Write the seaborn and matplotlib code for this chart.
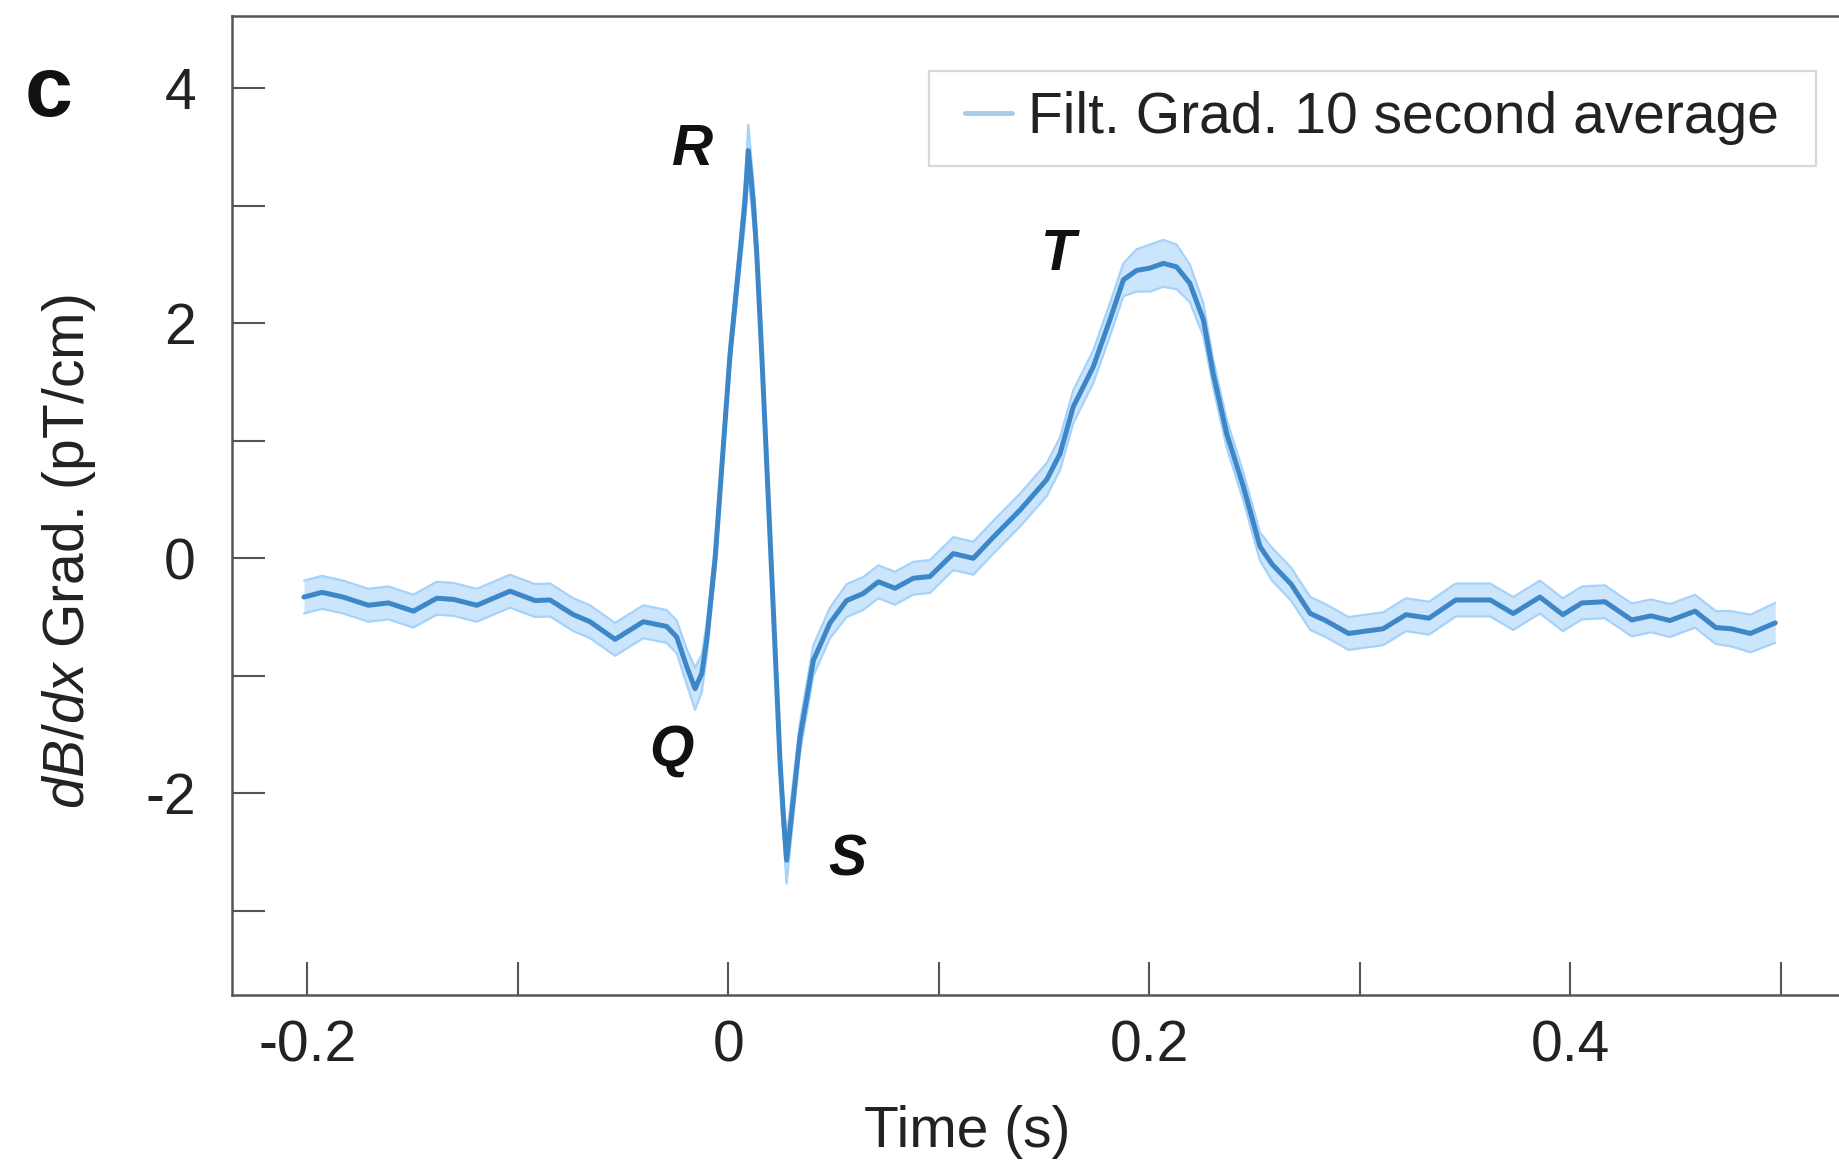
import numpy as np
import pandas as pd
import matplotlib
matplotlib.use("Agg")
import matplotlib.pyplot as plt
import seaborn as sns
from matplotlib.lines import Line2D
from matplotlib.legend_handler import HandlerLine2D

# ---------------- data ----------------
time_s = [-0.2016, -0.193, -0.183, -0.171, -0.1615, -0.1496, -0.1385, -0.1306, -0.1195,
          -0.1037, -0.0918, -0.0847, -0.0736, -0.0657, -0.0538, -0.0404, -0.0293, -0.0245,
          -0.0198, -0.0158, -0.0126, -0.0103, -0.0063, 0.0008, 0.0056, 0.0079, 0.0095,
          0.0119, 0.0135, 0.0159, 0.0214, 0.0246, 0.0261, 0.0277, 0.0301, 0.034, 0.0404,
          0.0483, 0.0562, 0.0641, 0.0713, 0.0792, 0.0879, 0.0958, 0.1069, 0.1164, 0.1259,
          0.1386, 0.1513, 0.1576, 0.1639, 0.1734, 0.1813, 0.1877, 0.194, 0.2003, 0.2067,
          0.213, 0.2193, 0.2257, 0.2304, 0.2368, 0.2447, 0.2526, 0.2583, 0.2674, 0.2765,
          0.2838, 0.2947, 0.3111, 0.322, 0.3329, 0.3456, 0.362, 0.3729, 0.3856, 0.3965,
          0.4056, 0.4165, 0.4292, 0.4384, 0.4474, 0.4593, 0.4692, 0.4765, 0.4856, 0.4974]

grad_mean = [-0.33, -0.29, -0.33, -0.40, -0.38, -0.45, -0.34, -0.35, -0.40,
             -0.28, -0.36, -0.355, -0.48, -0.54, -0.69, -0.54, -0.58, -0.67,
             -0.92, -1.11, -0.98, -0.70, -0.01, 1.73, 2.60, 3.03, 3.47,
             3.03, 2.60, 1.73, -0.44, -1.74, -2.18, -2.57, -2.18, -1.53, -0.87,
             -0.55, -0.36, -0.30, -0.20, -0.255, -0.17, -0.155, 0.04, 0.0, 0.18,
             0.41, 0.67, 0.89, 1.29, 1.63, 2.03, 2.37, 2.45, 2.47, 2.51,
             2.48, 2.34, 2.03, 1.57, 1.06, 0.61, 0.10, -0.05, -0.22, -0.47,
             -0.53, -0.64, -0.60, -0.48, -0.51, -0.355, -0.355, -0.47, -0.33, -0.48,
             -0.38, -0.37, -0.525, -0.49, -0.53, -0.45, -0.59, -0.60, -0.64, -0.55]

grad_err = [0.14, 0.14, 0.14, 0.14, 0.14, 0.14, 0.14, 0.14, 0.14,
            0.14, 0.14, 0.14, 0.14, 0.14, 0.14, 0.14, 0.14, 0.14,
            0.15, 0.18, 0.16, 0.14, 0.12, 0.10, 0.14, 0.18, 0.22,
            0.18, 0.14, 0.10, 0.10, 0.12, 0.16, 0.20, 0.16, 0.13, 0.13,
            0.13, 0.14, 0.14, 0.14, 0.14, 0.14, 0.14, 0.14, 0.14, 0.14,
            0.14, 0.14, 0.14, 0.14, 0.14, 0.14, 0.14, 0.18, 0.20, 0.20,
            0.19, 0.16, 0.14, 0.12, 0.12, 0.12, 0.12, 0.14, 0.14, 0.14,
            0.14, 0.14, 0.14, 0.14, 0.14, 0.14, 0.14, 0.14, 0.14, 0.14,
            0.14, 0.14, 0.14, 0.14, 0.14, 0.14, 0.14, 0.15, 0.16, 0.17]

x_major = [-0.2, 0.0, 0.2, 0.4]
x_major_labels = ["-0.2", "0", "0.2", "0.4"]
x_minor = [-0.1, 0.1, 0.3, 0.5]
y_major = [-2, 0, 2, 4]
y_major_labels = ["-2", "0", "2", "4"]
y_minor = [-3, -1, 1, 3]

series_label = "Filt. Grad. 10 second average"
wave_names = ["R", "Q", "S", "T"]

# ---------------- style ----------------
sns.set_theme(style="white")
plt.rcParams["font.family"] = ["Liberation Sans", "DejaVu Sans"]
plt.rcParams["mathtext.fontset"] = "custom"
plt.rcParams["mathtext.rm"] = "Liberation Sans"
plt.rcParams["mathtext.it"] = "Liberation Sans:italic"
plt.rcParams["axes.unicode_minus"] = False

LINE_C = "#3d87c8"
BAND_C = "#cbe5fc"
BAND_EDGE = "#a6d2fa"
LEG_C = "#a9cbea"
SPINE_C = "#555555"
TEXT_C = "#222222"
FS = 41

df = pd.DataFrame({"time": time_s, "mean": grad_mean, "err": grad_err})
df["lo"] = df["mean"] - df["err"]
df["hi"] = df["mean"] + df["err"]

fig = plt.figure(figsize=(18.39, 11.63), dpi=100)
ax = fig.add_axes([232 / 1839, 1 - 995 / 1163, 1 - 232 / 1839, (995 - 16.4) / 1163])

ax.fill_between(df["time"], df["lo"], df["hi"], color=BAND_C, linewidth=0, zorder=1)
ax.plot(df["time"], df["lo"], color=BAND_EDGE, lw=1.6, zorder=1.5,
        solid_joinstyle="round")
ax.plot(df["time"], df["hi"], color=BAND_EDGE, lw=1.6, zorder=1.5,
        solid_joinstyle="round")
sns.lineplot(data=df, x="time", y="mean", ax=ax, color=LINE_C, linewidth=3.6,
             estimator=None, sort=False, legend=False, zorder=2,
             solid_joinstyle="round", solid_capstyle="round")

ax.set_xlim(-0.2358, 0.5277)
ax.set_ylim(-3.717, 4.612)

ax.set_xticks(x_major)
ax.set_xticklabels(x_major_labels)
ax.set_xticks(x_minor, minor=True)
ax.set_yticks(y_major)
ax.set_yticklabels(y_major_labels)
ax.set_yticks(y_minor, minor=True)

for which in ("major", "minor"):
    ax.tick_params(axis="both", which=which, direction="in", length=24, width=1.5,
                   color=SPINE_C)
ax.tick_params(axis="x", which="major", pad=18, labelsize=FS, labelcolor=TEXT_C)
ax.tick_params(axis="y", which="major", pad=26, labelsize=FS, labelcolor=TEXT_C)
ax.tick_params(left=True, bottom=True, which="both")

for side in ("left", "bottom", "top"):
    ax.spines[side].set_color(SPINE_C)
    ax.spines[side].set_linewidth(1.8)
ax.spines["right"].set_visible(False)

ax.set_xlabel("Time (s)", fontsize=FS, color=TEXT_C)
ax.xaxis.set_label_coords((967.5 - 232) / 1607, (995 - 1105) / 979)
ax.set_ylabel(r"$dB/dx$ Grad. (pT/cm)", fontsize=FS, color=TEXT_C)
ax.yaxis.set_label_coords((98 - 232) / 1607, (995 - 551) / 979)

# wave annotations
wave_pos = {"R": (-0.0172, 3.475), "Q": (-0.0272, -1.637),
            "S": (0.0564, -2.568), "T": (0.1567, 2.585)}
for name in wave_names:
    xx, yy = wave_pos[name]
    ax.text(xx, yy, name, fontsize=FS, fontweight="bold", fontstyle="italic",
            ha="center", va="center", color="#111111")


class ShortLineHandler(HandlerLine2D):
    def get_xdata(self, legend, xdescent, ydescent, width, height, fontsize):
        short = 34.0
        xd = np.array([-xdescent + width - short, -xdescent + width])
        return xd, xd


handle = Line2D([], [], color=LEG_C, lw=3.5)
leg = ax.legend([handle], [series_label + " "], loc="upper right",
                bbox_to_anchor=((1815.5 - 232) / 1607, (995 - 70.4) / 979),
                fontsize=FS, frameon=True, fancybox=False, borderpad=0.36,
                handlelength=1.1, handletextpad=0.28, borderaxespad=0,
                handler_map={Line2D: ShortLineHandler()})
leg.get_frame().set_edgecolor("#cfcfcf")
leg.get_frame().set_linewidth(1.6)
for t in leg.get_texts():
    t.set_color(TEXT_C)

fig.text(49 / 1839, 1 - 94 / 1163, "c", fontsize=62, fontweight="bold",
         ha="center", va="center", color="#111111")

fig.savefig("out.png", dpi=100)
